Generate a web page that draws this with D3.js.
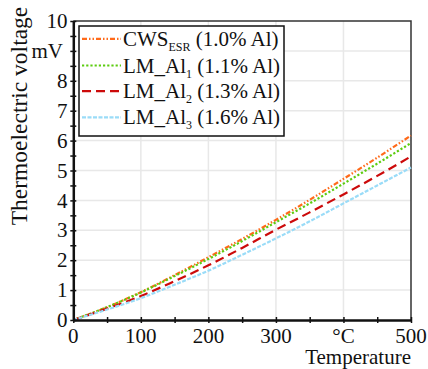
<!DOCTYPE html>
<html><head><meta charset="utf-8">
<script src="https://cdn.jsdelivr.net/npm/d3@7"></script>
<style>body{margin:0;background:#fff}svg{display:block}text{font-family:"Liberation Serif","Times New Roman",serif;fill:#111}</style>
</head><body><svg id="c" width="428" height="369"></svg>
<script>
const temps = [0, 50, 100, 150, 200, 250, 300, 350, 400, 450, 500];
const cwsEsr = [0, 0.43, 0.93, 1.50, 2.10, 2.71, 3.35, 4.02, 4.72, 5.43, 6.17];
const lmAl1  = [0, 0.43, 0.92, 1.47, 2.04, 2.64, 3.27, 3.90, 4.56, 5.23, 5.92];
const lmAl2  = [0, 0.38, 0.80, 1.30, 1.83, 2.41, 3.02, 3.60, 4.20, 4.82, 5.47];
const lmAl3  = [0, 0.35, 0.73, 1.18, 1.65, 2.18, 2.73, 3.30, 3.90, 4.50, 5.10];
const xTickValues = [0, 100, 200, 300, 400, 500];
const xTickLabels = ["0", "100", "200", "300", "°C", "500"];
const yTickValues = [0,1,2,3,4,5,6,7,8,9,10];
const yTickLabels = ["0","1","2","3","4","5","6","7","8","mV","10"];
const seriesNames = [["CWS","ESR"," (1.0% Al)"],["LM_Al","1"," (1.1% Al)"],["LM_Al","2"," (1.3% Al)"],["LM_Al","3"," (1.6% Al)"]];
const seriesColors = ["#ff6a1a", "#5ccc10", "#cc0a0a", "#9adcf8"];
const seriesDash = ["5,2,1.5,2,1.5,2", "2.2,2", "9,5", "4,1.5"];
const seriesData = [cwsEsr, lmAl1, lmAl2, lmAl3];

const svg = d3.select("#c");
const L = 73.3, R = 411, T = 21, B = 320;
const x = d3.scaleLinear().domain([0, 500]).range([L, R]);
const y = d3.scaleLinear().domain([0, 10]).range([B, T]);

// grid
const g = svg.append("g");
g.selectAll("line.gx").data(xTickValues.slice(1, -1)).join("line")
  .attr("x1", d => x(d)).attr("x2", d => x(d)).attr("y1", T).attr("y2", B)
  .attr("stroke", "#e8e8e8").attr("stroke-width", 1.5);
g.selectAll("line.gy").data(yTickValues.slice(1, -1)).join("line")
  .attr("y1", d => y(d)).attr("y2", d => y(d)).attr("x1", L).attr("x2", R)
  .attr("stroke", "#e8e8e8").attr("stroke-width", 1.5);

// frame top/right
svg.append("path").attr("d", `M${L},${T}H${R}V${B}`).attr("fill", "none")
  .attr("stroke", "#333").attr("stroke-width", 1.5);

// curves
const line = d3.line().x((d, i) => x(temps[i])).y(d => y(d)).curve(d3.curveMonotoneX);
seriesData.forEach((s, k) => {
  svg.append("path").datum(s).attr("d", line).attr("fill", "none")
    .attr("stroke", seriesColors[k]).attr("stroke-width", 2.2)
    .attr("stroke-dasharray", seriesDash[k]);
});

// axes
const xAxis = d3.axisBottom(x).tickValues(d3.range(0, 501, 50)).tickSize(0).tickFormat("");
const yAxis = d3.axisLeft(y).tickValues(d3.range(0, 10.01, 0.5)).tickSize(0).tickFormat("");
svg.append("g").attr("transform", `translate(0,${B})`).call(xAxis)
  .call(a => a.select(".domain").attr("stroke", "#111").attr("stroke-width", 2.5))
  .call(a => a.selectAll(".tick line").attr("y1", -3).attr("y2", 3).attr("stroke", "#111").attr("stroke-width", 1.5));
svg.append("g").attr("transform", `translate(${L},0)`).call(yAxis)
  .call(a => a.select(".domain").attr("stroke", "#111").attr("stroke-width", 2.5))
  .call(a => a.selectAll(".tick line").attr("x1", -3).attr("x2", 3).attr("stroke", "#111").attr("stroke-width", 1.5));

// tick labels
svg.append("g").selectAll("text").data(xTickValues).join("text")
  .attr("x", d => x(d)).attr("y", 343).attr("text-anchor", "middle")
  .attr("font-size", 21).text((d, i) => xTickLabels[i]);
svg.append("g").selectAll("text").data(yTickValues).join("text")
  .attr("x", (d, i) => yTickLabels[i] === "mV" ? 63 : 67.5).attr("y", d => y(d)).attr("dy", "0.34em")
  .attr("text-anchor", "end").attr("font-size", 21).text((d, i) => yTickLabels[i]);

// axis titles
svg.append("text").attr("x", R).attr("y", 364).attr("text-anchor", "end")
  .attr("font-size", 21).text("Temperature");
svg.append("text").attr("transform", "translate(27,116) rotate(-90)").attr("text-anchor", "middle")
  .attr("font-size", 23.5).text("Thermoelectric voltage");

// legend
const lg = svg.append("g");
lg.append("rect").attr("x", 79).attr("y", 26).attr("width", 205).attr("height", 110)
  .attr("fill", "#fff").attr("stroke", "#111").attr("stroke-width", 1.5);
const legY = [38.8, 65.5, 91.2, 117.4];
seriesNames.forEach((nm, k) => {
  lg.append("line").attr("x1", 82).attr("x2", 121).attr("y1", legY[k]).attr("y2", legY[k])
    .attr("stroke", seriesColors[k]).attr("stroke-width", 2.2).attr("stroke-dasharray", seriesDash[k]);
  const t = lg.append("text").attr("x", 123).attr("y", legY[k] + 7).attr("font-size", 21);
  t.append("tspan").text(nm[0]);
  t.append("tspan").attr("font-size", 12).attr("dy", 5).text(nm[1]);
  t.append("tspan").attr("dy", -5).text(nm[2]);
});
</script></body></html>
